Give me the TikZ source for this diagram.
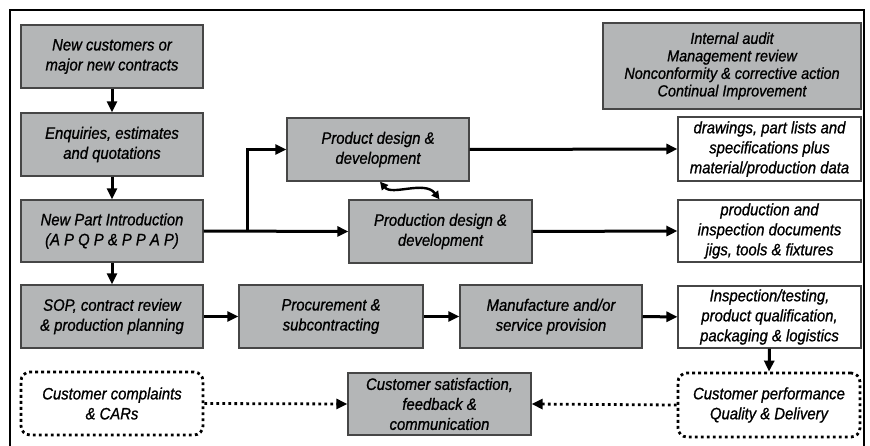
\documentclass[tikz,border=0pt]{standalone}
\usepackage{fontspec}
\setmainfont{Liberation Sans}[FakeStretch=0.9, FakeBold=0.9]
\usetikzlibrary{arrows.meta}
\definecolor{boxgray}{RGB}{180,182,183}
\definecolor{edgegray}{RGB}{70,70,70}
\begin{document}
\begin{tikzpicture}[x=1pt,y=-1pt,
  base/.style={inner sep=0pt, align=center, font=\fontsize{16.5}{20}\selectfont\itshape},
  gbox/.style={base, draw=edgegray, line width=1.3pt, fill=boxgray, minimum height=63pt},
  wbox/.style={base, draw=edgegray, line width=1.1pt, fill=white, minimum width=183pt, minimum height=63pt},
  dbox/.style={base, draw=black, line width=2.8pt, dash pattern=on 2.8pt off 3.2pt, rounded corners=9pt, minimum width=182pt, minimum height=63pt},
  arr/.style={draw=black, line width=3pt, -{Triangle[length=11pt,width=10pt]}},
  darr/.style={draw=black, line width=2.8pt, dash pattern=on 2.8pt off 3.2pt, -{Triangle[length=11pt,width=10pt]}},
  barr/.style={draw=black, line width=2.4pt, {Triangle[length=8pt,width=8pt]}-{Triangle[length=8pt,width=8pt]}}
]
\useasboundingbox (0,0) rectangle (870,446);
\fill[white] (0,0) rectangle (870,446);
\begin{scope}
\clip (0,0) rectangle (870,446);
\draw[black, line width=1.8pt] (10,10) rectangle (864,470);
\end{scope}

\node[gbox, minimum width=182pt] (n1) at (112,56.5) {New customers or\\major new contracts};
\node[gbox, minimum width=182pt] (n2) at (112,144.5) {Enquiries, estimates\\and quotations};
\node[gbox, minimum width=182pt, minimum height=62pt] (n3) at (112,231) {New Part Introduction\\(A P Q P \& P P A P)};
\node[gbox, minimum width=182pt] (n4) at (112,316.5) {SOP, contract review\\\& production planning};

\node[gbox, minimum width=182pt] (pd) at (378,149.5) {Product design \&\\development};
\node[gbox, minimum width=183pt] (prd) at (440.5,231.5) {Production design \&\\development};

\node[gbox, minimum width=258pt, minimum height=86pt, font=\fontsize{16}{17.5}\selectfont\itshape] (ia) at (732,66) {Internal audit\\Management review\\Nonconformity \& corrective action\\Continual Improvement};

\node[wbox, minimum height=64pt] (dr) at (769.5,149) {drawings, part lists and\\specifications plus\\material/production data};
\node[wbox, minimum height=62pt] (pi) at (769.5,231) {production and\\inspection documents\\jigs, tools \& fixtures};
\node[wbox, minimum height=62pt] (ins) at (769.5,317) {Inspection/testing,\\product qualification,\\packaging \& logistics};

\node[gbox, minimum width=184pt] (proc) at (331,316.5) {Procurement \&\\subcontracting};
\node[gbox, minimum width=182pt] (man) at (551,316.5) {Manufacture and/or\\service provision};

\node[dbox] (cc) at (112,403.5) {Customer complaints\\\& CARs};
\node[gbox, minimum width=183pt, minimum height=62pt] (cs) at (439.5,404) {Customer satisfaction,\\feedback \&\\communication};
\node[dbox, minimum height=64pt] (cp) at (769,405) {Customer performance\\Quality \& Delivery};

\draw[arr] (n1) -- (n2);
\draw[arr] (n2) -- (n3);
\draw[arr] (n3) -- (n4);
\draw[arr] (n3.east) -- (prd.west);
\coordinate (br) at (247,231);
\draw[arr] (br) |- (pd.west);
\draw[arr] (pd.east) -- (dr.west);
\draw[arr] (prd.east) -- (pi.west);
\draw[arr] (n4) -- (proc);
\draw[arr] (proc) -- (man);
\draw[arr] (man) -- (ins);
\draw[arr] (ins.south) -- (cp.north);
\draw[darr] (cc.east) -- (cs.west);
\draw[darr] (cp.west) -- (cs.east);
\draw[barr] ([xshift=2pt]pd.south) .. controls (392,196) and (425,180) .. ([xshift=-1pt]prd.north);
\end{tikzpicture}
\end{document}
